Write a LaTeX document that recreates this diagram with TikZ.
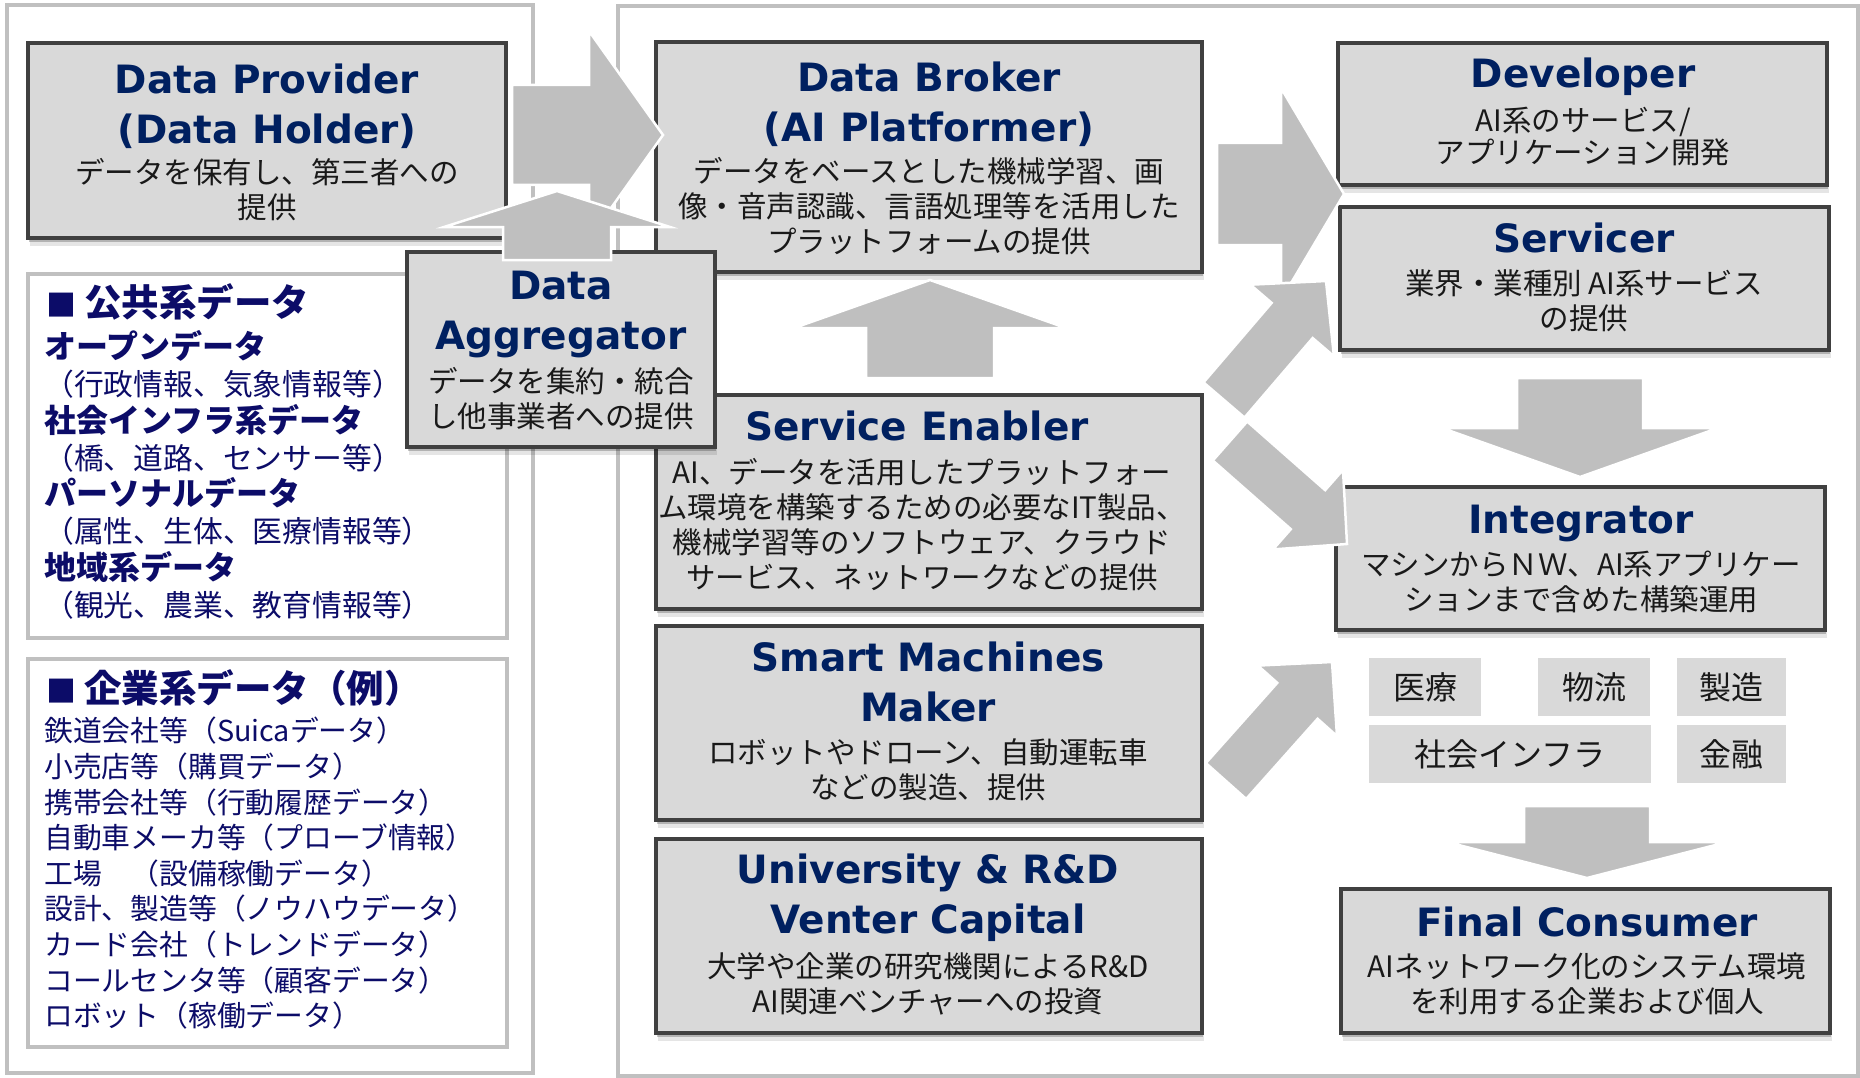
\documentclass[tikz,border=0pt]{standalone}
\usepackage{fontspec}
\usetikzlibrary{calc,shadows}
\newfontfamily\jpfont{Noto Sans CJK JP}
\newfontfamily\enfont{DejaVu Sans}
\definecolor{boxfill}{RGB}{217,217,217}
\definecolor{boxline}{RGB}{64,64,64}
\definecolor{panelline}{RGB}{192,192,192}
\definecolor{arrowgray}{RGB}{191,191,191}
\definecolor{navy}{RGB}{0,32,96}
\definecolor{listblue}{RGB}{12,12,104}

\tikzset{
  panel/.style={draw=panelline, line width=4pt, fill=white, inner sep=0pt},
  listbox/.style={draw=panelline, line width=4.5pt, fill=white, inner sep=0pt},
  rolebox/.style={draw=boxline, line width=3.5pt, fill=boxfill, inner sep=0pt,
    drop shadow={shadow xshift=1pt, shadow yshift=-4pt, opacity=.22, fill=black},
    drop shadow={shadow xshift=2pt, shadow yshift=-8pt, opacity=.10, fill=black}},
  tagbox/.style={fill=boxfill, inner sep=0pt, text=black!90,
    font=\jpfont\fontsize{32}{36}\selectfont},
  ttl/.style={text=navy, font=\enfont\bfseries\fontsize{39}{50}\selectfont,
    align=center, inner sep=0pt},
  txt/.style={text=black!90, font=\jpfont\fontsize{29.5}{35}\selectfont,
    align=center, inner sep=0pt},
  txtnarrow/.style={txt, font=\jpfont\fontsize{29.5}{32.5}\selectfont},
  datalist/.style={anchor=west, align=left, inner sep=0pt, text=listblue},
  fat/.style={fill=arrowgray, draw=white, line width=2.5pt, line join=miter},
}

% block arrow: [style] tail, tip, shaft half width, head half width, head length
\newcommand\fatarrow[6][]{%
  \coordinate (fa-neck) at ($(#3)!#6!(#2)$);
  \path[fat,#1] ($(#2)!#4!90:(#3)$) -- ($(fa-neck)!#4!90:(#3)$)
    -- ($(fa-neck)!#5!90:(#3)$) -- (#3) -- ($(fa-neck)!#5!-90:(#3)$)
    -- ($(fa-neck)!#4!-90:(#3)$) -- ($(#2)!#4!-90:(#3)$) -- cycle;
}
% list headings: small square bullet, then large bold text
\newcommand\hdA[1]{\hspace{2pt}{\fontsize{30}{37}\selectfont ■}\hspace{8pt}{\bfseries\fontsize{37.5}{37}\selectfont #1}}
\newcommand\hdB[1]{{\bfseries\fontsize{32}{37}\selectfont #1}}

\begin{document}
\begin{tikzpicture}[x=1pt, y=-1pt]
\useasboundingbox (0,0) rectangle (1860,1078);

% outer panels
\node[panel, minimum width=526pt, minimum height=1068pt] (leftpanel) at (270,539) {};
\node[panel, minimum width=1240pt, minimum height=1070pt] (rightpanel) at (1238,541) {};

% data source lists
\node[listbox, minimum width=479pt, minimum height=364pt] (pub) at (267.5,456) {};
\node[listbox, minimum width=479pt, minimum height=388pt] (ent) at (267.5,853) {};

\node[datalist, font=\jpfont\fontsize{29.8}{36.8}\selectfont] (publist) at (44,451.5) {%
  \hdA{公共系データ}\\[5pt]
  \hdB{オープンデータ}\\
  （行政情報、気象情報等）\\
  \hdB{社会インフラ系データ}\\
  （橋、道路、センサー等）\\
  \hdB{パーソナルデータ}\\
  （属性、生体、医療情報等）\\
  \hdB{地域系データ}\\
  （観光、農業、教育情報等）};

\node[datalist, font=\jpfont\fontsize{28.8}{35.6}\selectfont] (entlist) at (44,849.5) {%
  \hdA{企業系データ（例）}\\[4pt]
  鉄道会社等（Suicaデータ）\\
  小売店等（購買データ）\\
  携帯会社等（行動履歴データ）\\
  自動車メーカ等（プローブ情報）\\
  工場　（設備稼働データ）\\
  設計、製造等（ノウハウデータ）\\
  カード会社（トレンドデータ）\\
  コールセンタ等（顧客データ）\\
  ロボット（稼働データ）};

% role boxes
\node[rolebox, minimum width=478pt, minimum height=195pt] (dp) at (267,140.5) {};
\node[rolebox, minimum width=546pt, minimum height=230pt] (db) at (929,157) {};
\node[rolebox, minimum width=546pt, minimum height=214pt] (se) at (929,502) {};
\node[rolebox, minimum width=546pt, minimum height=194pt] (sm) at (929,723) {};
\node[rolebox, minimum width=546pt, minimum height=194pt] (uni) at (929,936) {};
\node[rolebox, minimum width=489pt, minimum height=142pt] (dev) at (1582.5,114) {};
\node[rolebox, minimum width=489pt, minimum height=143pt] (svc) at (1584.5,278.5) {};
\node[rolebox, minimum width=489pt, minimum height=143pt] (intg) at (1580.5,558.5) {};
\node[rolebox, minimum width=489pt, minimum height=144pt] (fc) at (1585.5,961) {};
\node[rolebox, minimum width=308pt, minimum height=195pt] (agg) at (561,349.5) {};

% industry tags
\node[tagbox, minimum width=112pt, minimum height=58pt] (iryo) at (1425,687) {医療};
\node[tagbox, minimum width=112pt, minimum height=58pt] (butsuryu) at (1594,687) {物流};
\node[tagbox, minimum width=109pt, minimum height=58pt] (seizo) at (1731.5,687) {製造};
\node[tagbox, minimum width=282pt, minimum height=58pt] (infra) at (1510,754) {社会インフラ};
\node[tagbox, minimum width=109pt, minimum height=58pt] (kinyu) at (1731.5,754) {金融};

% flow arrows
\coordinate (dpout) at (512,135);   \coordinate (dbin) at (663,135);
\coordinate (aggout) at (557,260);  \coordinate (aggin) at (557,191);
\coordinate (seup) at (930,378);    \coordinate (dbdown) at (930,280);
\coordinate (dbout) at (1217,194);  \coordinate (devin) at (1344,194);
\coordinate (sedn) at (1230,441);   \coordinate (intgin) at (1347,544);
\coordinate (seout) at (1224,400);  \coordinate (svcin) at (1326,281);
\coordinate (smout) at (1226,781);  \coordinate (tagin) at (1332,662);
\coordinate (svcout) at (1580,378); \coordinate (intgtop) at (1580,477);
\coordinate (tagout) at (1587,806); \coordinate (fcin) at (1587,878);

\fatarrow{dpout}{dbin}{50pt}{104pt}{74pt}
\fatarrow{aggout}{aggin}{54pt}{113pt}{36pt}
\fatarrow{seup}{dbdown}{64pt}{136pt}{48pt}
\fatarrow{dbout}{devin}{51pt}{106pt}{63pt}
\fatarrow{sedn}{intgin}{26pt}{53pt}{52pt}
\fatarrow{seout}{svcin}{27pt}{55pt}{52pt}
\fatarrow{smout}{tagin}{27pt}{53pt}{52pt}
\fatarrow{svcout}{intgtop}{63pt}{138pt}{49pt}
\fatarrow{tagout}{fcin}{63pt}{140pt}{36pt}

% role texts
\node[ttl] (dpT) at (267,106.5) {Data Provider\\(Data Holder)};
\node[txt] (dpB) at (267,190) {データを保有し、第三者への\\提供};

\node[ttl] (dbT) at (929,104) {Data Broker\\(AI Platformer)};
\node[txt] (dbB) at (929,206) {データをベースとした機械学習、画\\像・音声認識、言語処理等を活用した\\プラットフォームの提供};

\node[ttl] (aggT) at (561,314) {Data\\Aggregator};
\node[txt] (aggB) at (561,399) {データを集約・統合\\し他事業者への提供};

\node[ttl] (seT) at (917,426) {Service Enabler};
\node[txt] (seB) at (922,525) {AI、データを活用したプラットフォー\\ム環境を構築するための必要なIT製品、\\機械学習等のソフトウェア、クラウド\\サービス、ネットワークなどの提供};

\node[ttl] (smT) at (928,682) {Smart Machines\\Maker};
\node[txt] (smB) at (928,769.5) {ロボットやドローン、自動運転車\\などの製造、提供};

\node[ttl] (uniT) at (928,898) {University \& R\&D\\Venter Capital};
\node[txt] (uniB) at (928,983.5) {大学や企業の研究機関によるR\&D\\AI関連ベンチャーへの投資};

\node[ttl] (devT) at (1583,77) {Developer};
\node[txtnarrow] (devB) at (1583,136.5) {AI系のサービス/\\アプリケーション開発};

\node[ttl] (svcT) at (1584,238) {Servicer};
\node[txt] (svcB) at (1584,301) {業界・業種別 AI系サービス\\の提供};

\node[ttl] (intgT) at (1581,523) {Integrator};
\node[txt] (intgB) at (1581,582) {マシンからＮＷ、AI系アプリケー\\ションまで含めた構築運用};

\node[ttl] (fcT) at (1587,922) {Final Consumer};
\node[txt] (fcB) at (1587,984) {AIネットワーク化のシステム環境\\を利用する企業および個人};
\end{tikzpicture}
\end{document}
